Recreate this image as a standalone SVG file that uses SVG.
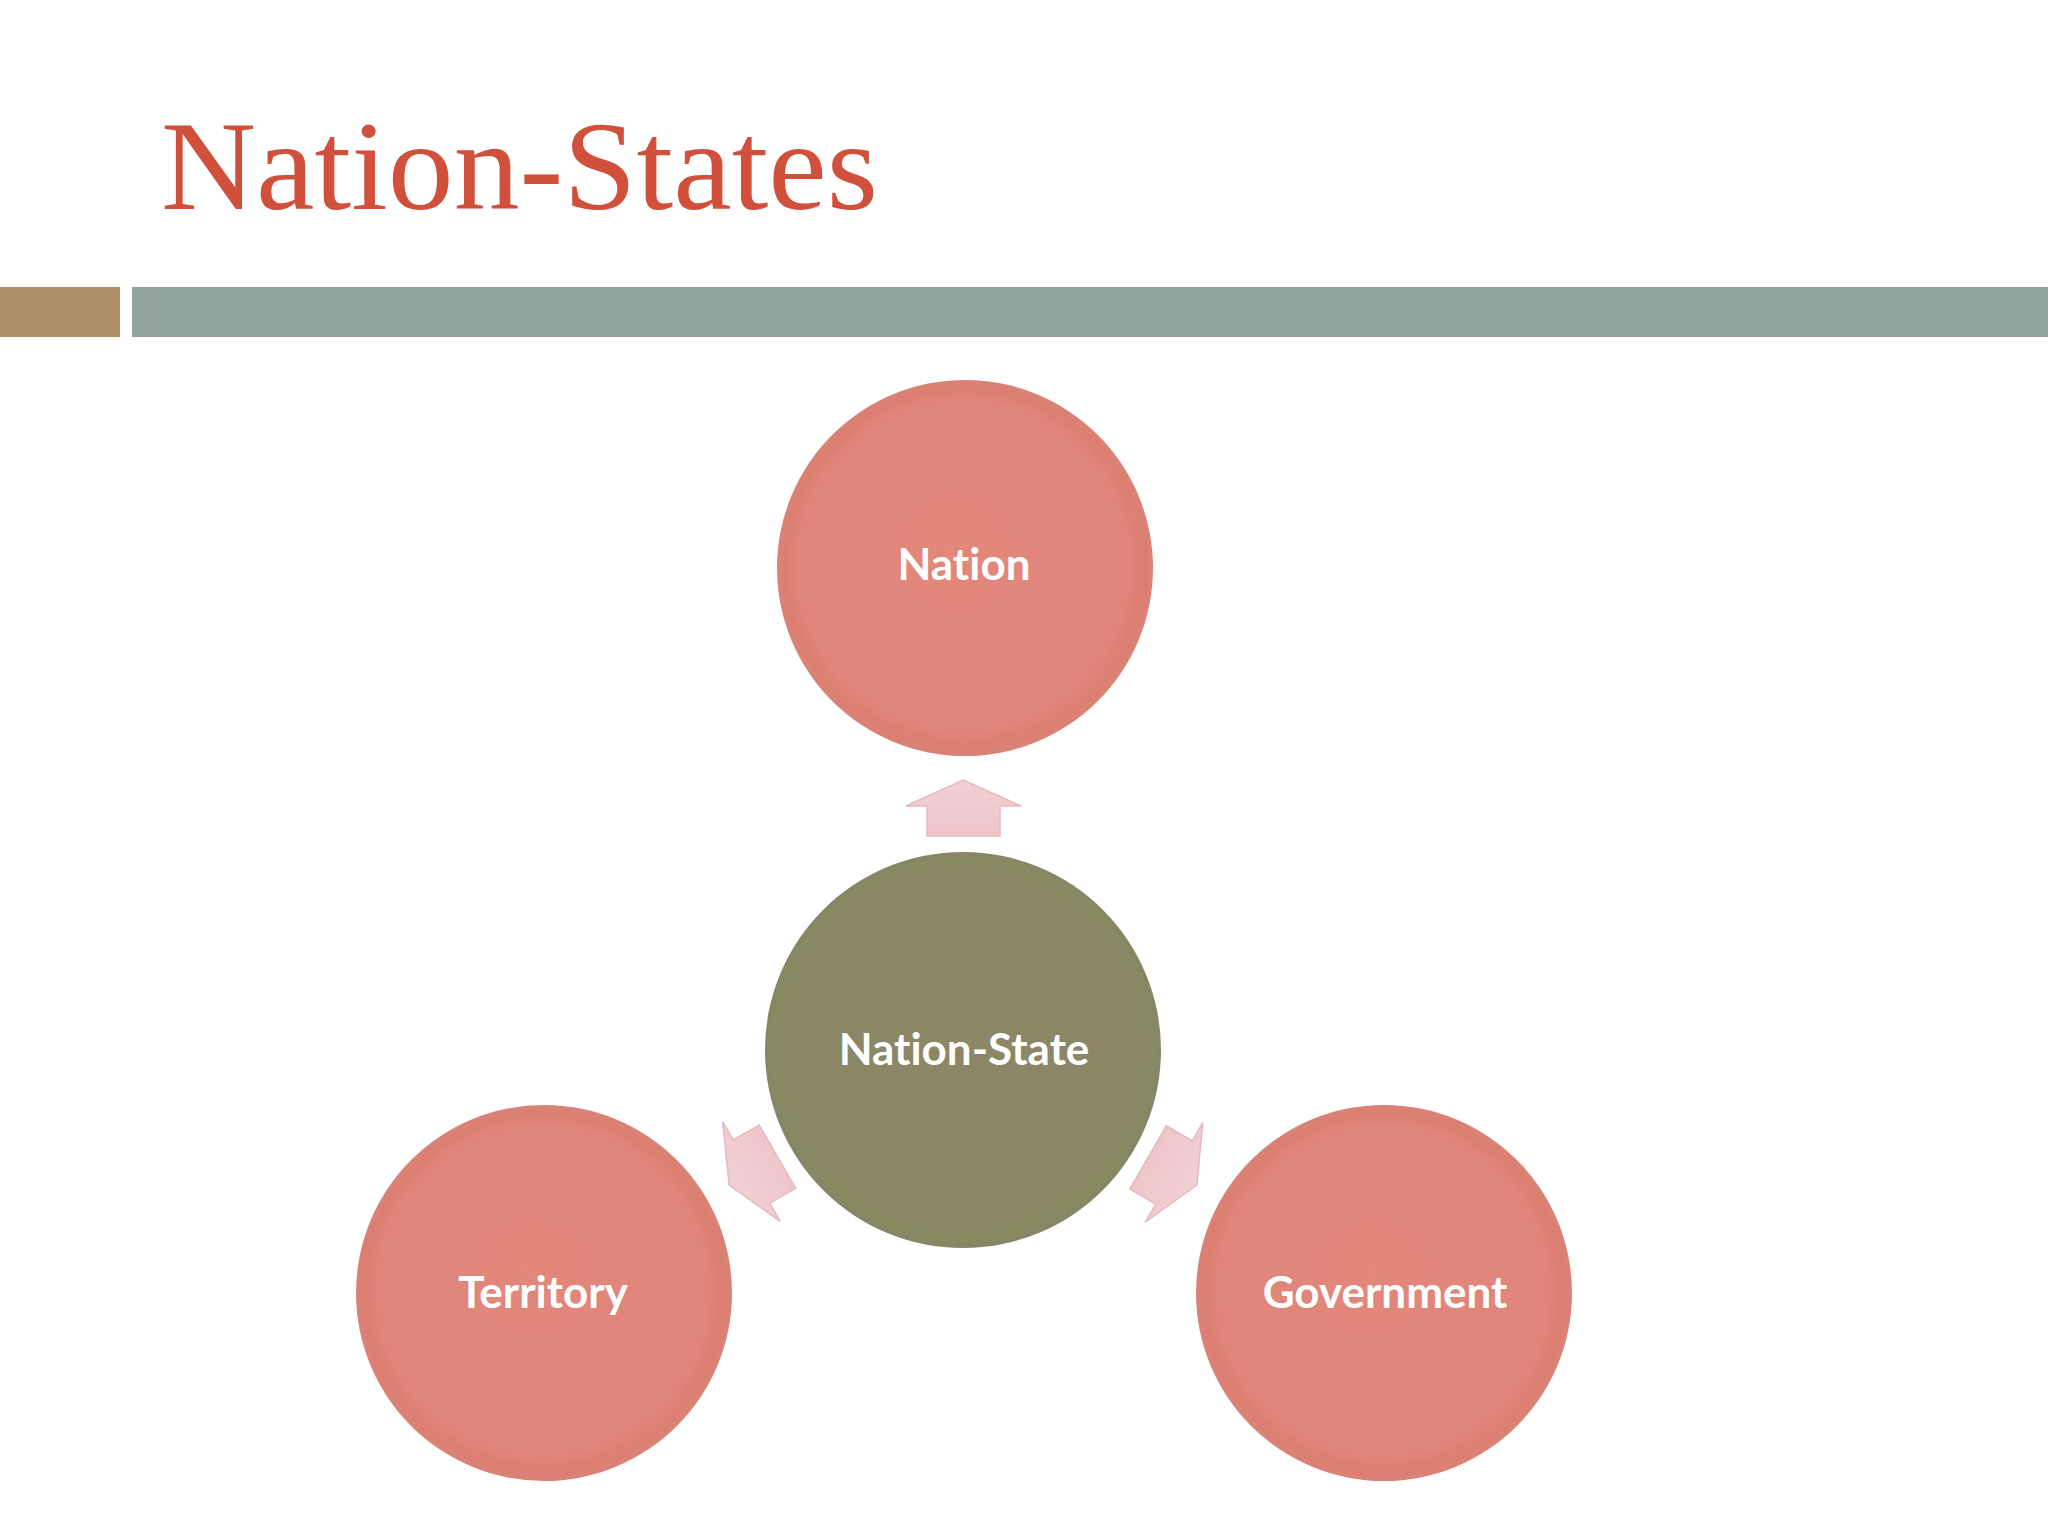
<svg xmlns="http://www.w3.org/2000/svg" width="2048" height="1536" viewBox="0 0 2048 1536">
  <defs>
    <radialGradient id="gSalmon" cx="0.5" cy="0.5" r="0.5" fx="0.46" fy="0.44">
      <stop offset="0" stop-color="#E2877A"/>
      <stop offset="0.88" stop-color="#E0857A"/>
      <stop offset="0.96" stop-color="#DC7E71"/>
      <stop offset="1" stop-color="#D98378"/>
    </radialGradient>
    <radialGradient id="gOlive" cx="0.5" cy="0.5" r="0.5" fx="0.46" fy="0.44">
      <stop offset="0" stop-color="#8B8767"/>
      <stop offset="0.88" stop-color="#8A8666"/>
      <stop offset="0.96" stop-color="#888A61"/>
      <stop offset="1" stop-color="#868568"/>
    </radialGradient>
    <linearGradient id="gArrow" x1="0" y1="0" x2="0" y2="1">
      <stop offset="0" stop-color="#F2D0D3"/>
      <stop offset="1" stop-color="#EEC6CA"/>
    </linearGradient>
    <path id="arrow" d="M963 780 L1021 806 L1000 806 L1000 836 L927 836 L927 806 L906 806 Z"/>
  </defs>
  <style>
    .lbl { font-family: Lato, "Open Sans", "Liberation Sans", sans-serif; font-weight: 700; font-size: 44px; fill: #FFFFFF; text-anchor: middle; font-variant-ligatures: none; font-feature-settings: "liga" 0, "dlig" 0; }
    .title { font-family: "Liberation Serif", "DejaVu Serif", serif; font-size: 127px; fill: #D0503C; }
    .arr { fill: url(#gArrow); stroke: #E7B9BE; stroke-width: 1.5; stroke-linejoin: miter; }
  </style>
  <rect x="0" y="0" width="2048" height="1536" fill="#FFFFFF"/>

  <text class="title" x="161" y="209" textLength="717" lengthAdjust="spacingAndGlyphs">Nation-States</text>

  <rect x="0" y="287" width="120" height="50" fill="#AD8E68"/>
  <rect x="132" y="287" width="1916" height="50" fill="#91A39A"/>

  <g id="connectors">
    <use href="#arrow" class="arr"/>
    <use href="#arrow" class="arr" transform="rotate(-120 963 1050)"/>
    <use href="#arrow" class="arr" transform="rotate(120 963 1050)"/>
  </g>

  <g id="node-nation">
    <circle cx="965" cy="568" r="188" fill="url(#gSalmon)"/>
    <text class="lbl" x="964" y="580">Nation</text>
  </g>
  <g id="node-nation-state">
    <circle cx="963" cy="1050" r="198" fill="url(#gOlive)"/>
    <text class="lbl" x="964" y="1065">Nation-State</text>
  </g>
  <g id="node-territory">
    <circle cx="544" cy="1293" r="188" fill="url(#gSalmon)"/>
    <text class="lbl" x="543" y="1308">Territory</text>
  </g>
  <g id="node-government">
    <circle cx="1384" cy="1293" r="188" fill="url(#gSalmon)"/>
    <text class="lbl" x="1385" y="1308">Government</text>
  </g>
</svg>
